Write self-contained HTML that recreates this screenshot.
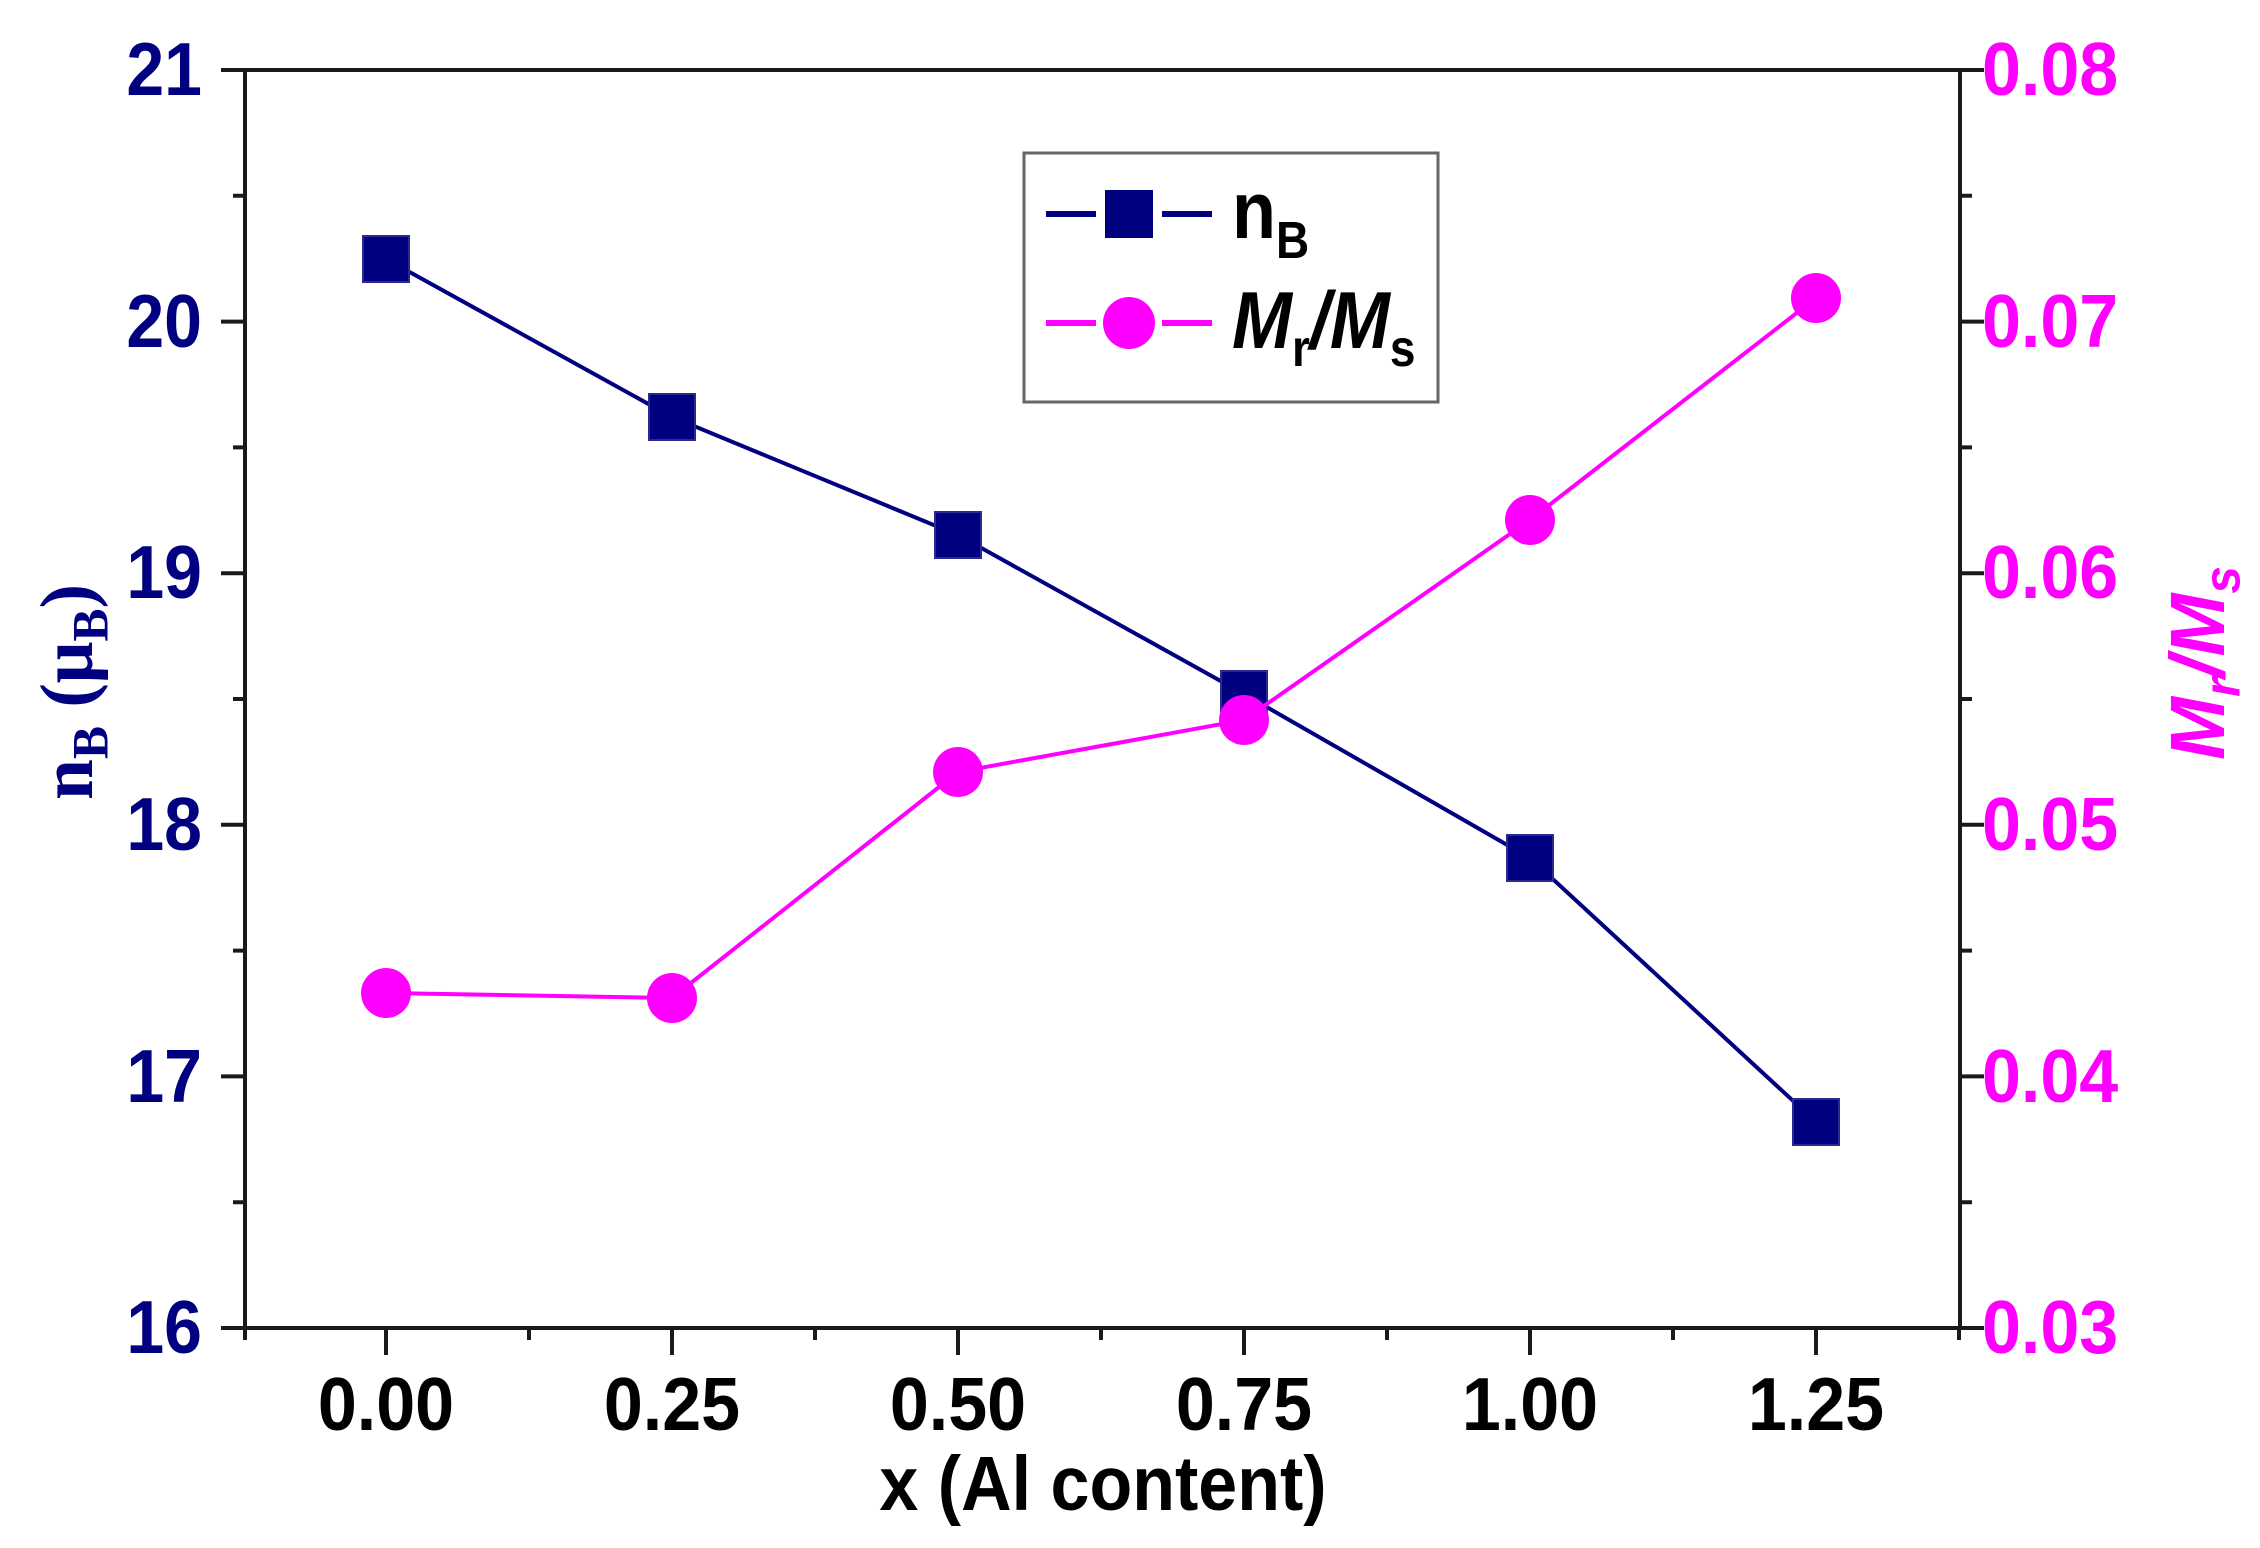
<!DOCTYPE html>
<html><head><style>body{margin:0;background:#fff}svg{display:block}</style></head><body>
<svg width="2260" height="1548" viewBox="0 0 2260 1548" xmlns="http://www.w3.org/2000/svg" font-family="Liberation Sans, sans-serif" font-weight="bold">
<rect width="2260" height="1548" fill="#fff"/>
<g stroke="#1a1a1a" stroke-width="4" fill="none">
<rect x="245" y="70" width="1715" height="1258"/>
<path d="M245 70h-24M245 321.6h-24M245 573.2h-24M245 824.8h-24M245 1076.4h-24M245 1328h-24"/>
<path d="M245 195.8h-12M245 447.4h-12M245 699h-12M245 950.6h-12M245 1202.2h-12"/>
<path d="M1960 70h24M1960 321.6h24M1960 573.2h24M1960 824.8h24M1960 1076.4h24M1960 1328h24"/>
<path d="M1960 195.8h12M1960 447.4h12M1960 699h12M1960 950.6h12M1960 1202.2h12"/>
<path d="M386 1328v27M672 1328v27M958 1328v27M1244 1328v27M1530 1328v27M1816 1328v27"/>
<path d="M245 1328v12M529 1328v12M815 1328v12M1101 1328v12M1387 1328v12M1673 1328v12M1959 1328v12"/>
</g>
<g fill="#000080" font-size="68" text-anchor="end">
<text transform="translate(202,95) scale(1,1.1)">21</text>
<text transform="translate(202,347) scale(1,1.1)">20</text>
<text transform="translate(202,598) scale(1,1.1)">19</text>
<text transform="translate(202,850) scale(1,1.1)">18</text>
<text transform="translate(202,1102) scale(1,1.1)">17</text>
<text transform="translate(202,1353) scale(1,1.1)">16</text>
</g>
<g fill="#ff00ff" font-size="70" text-anchor="start">
<text transform="translate(1982,95) scale(1,1.08)">0.08</text>
<text transform="translate(1982,347) scale(1,1.08)">0.07</text>
<text transform="translate(1982,598) scale(1,1.08)">0.06</text>
<text transform="translate(1982,850) scale(1,1.08)">0.05</text>
<text transform="translate(1982,1102) scale(1,1.08)">0.04</text>
<text transform="translate(1982,1353) scale(1,1.08)">0.03</text>
</g>
<g fill="#000" font-size="70" text-anchor="middle">
<text transform="translate(386,1430) scale(1,1.08)">0.00</text>
<text transform="translate(672,1430) scale(1,1.08)">0.25</text>
<text transform="translate(958,1430) scale(1,1.08)">0.50</text>
<text transform="translate(1244,1430) scale(1,1.08)">0.75</text>
<text transform="translate(1530,1430) scale(1,1.08)">1.00</text>
<text transform="translate(1816,1430) scale(1,1.08)">1.25</text>
<text transform="translate(1103,1510) scale(1,1.1)" font-size="70">x (Al content)</text>
</g>
<text transform="translate(92,692) rotate(-90) scale(1.08,1.1)" text-anchor="middle" fill="#000080" font-family="Liberation Serif, serif" font-size="68">n<tspan font-size="46" dy="14">B</tspan><tspan dy="-14"> (μ</tspan><tspan font-size="46" dy="14">B</tspan><tspan dy="-14">)</tspan></text>
<text transform="translate(2224,663) rotate(-90) scale(1.08,1.1)" text-anchor="middle" fill="#ff00ff" font-size="70" font-style="italic">M<tspan font-size="46" dy="14">r</tspan><tspan dy="-14">/M</tspan><tspan font-size="46" dy="14">s</tspan></text>
<polyline points="386,259 672,417 958,535 1244,694 1530,858 1816,1122" fill="none" stroke="#000080" stroke-width="4"/>
<g fill="#000080" stroke="#2a2a90" stroke-width="2">
<rect x="363" y="236" width="46" height="46"/><rect x="649" y="394" width="46" height="46"/>
<rect x="935" y="512" width="46" height="46"/><rect x="1221" y="671" width="46" height="46"/>
<rect x="1507" y="835" width="46" height="46"/><rect x="1793" y="1099" width="46" height="46"/>
</g>
<polyline points="386,993 672,998 958,772 1244,720 1530,520 1816,298" fill="none" stroke="#ff00ff" stroke-width="4"/>
<g fill="#ff00ff">
<circle cx="386" cy="993" r="25"/><circle cx="672" cy="998" r="25"/><circle cx="958" cy="772" r="25"/>
<circle cx="1244" cy="720" r="25"/><circle cx="1530" cy="520" r="25"/><circle cx="1816" cy="298" r="25"/>
</g>
<rect x="1024" y="153" width="414" height="249" fill="#fff" stroke="#666" stroke-width="3"/>
<path d="M1046 214h50M1162 214h50" stroke="#000080" stroke-width="6"/>
<rect x="1105" y="190" width="48" height="48" fill="#000080"/>
<path d="M1046 323h50M1162 323h50" stroke="#ff00ff" stroke-width="6"/>
<circle cx="1129" cy="323" r="26" fill="#ff00ff"/>
<text transform="translate(1232,238) scale(1,1.12)" font-size="72" fill="#000">n<tspan font-size="46" dy="18">B</tspan></text>
<text transform="translate(1232,348) scale(1,1.12)" font-size="72" fill="#000" font-style="italic">M<tspan font-size="46" dy="16" font-style="normal">r</tspan><tspan dy="-16">/M</tspan><tspan font-size="46" dy="16" font-style="normal">s</tspan></text>
</svg>
</body></html>
